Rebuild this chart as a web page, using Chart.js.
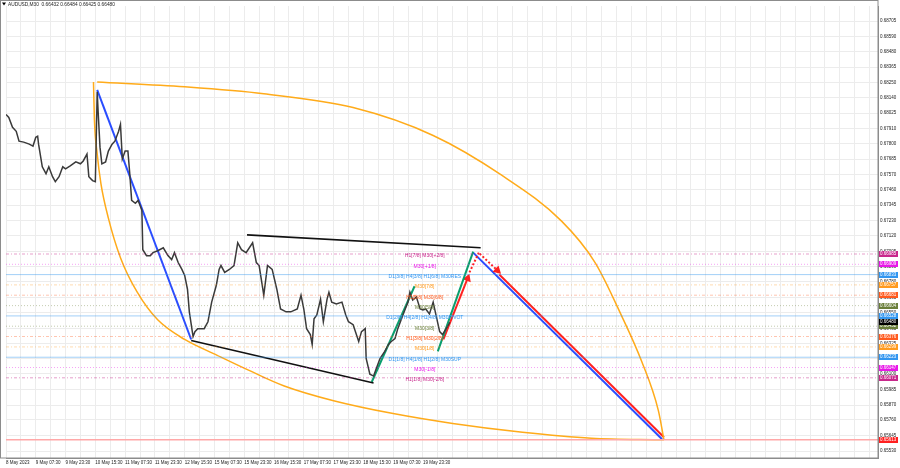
<!DOCTYPE html>
<html lang="en">
<head>
<meta charset="UTF-8">
<title>AUDUSD M30</title>
<script src="https://cdn.jsdelivr.net/npm/chart.js"></script>
<style>
  body { margin: 0; background: #fff; }
  canvas { display: block; }
</style>
</head>
<body>
<canvas id="chart" width="900" height="468"></canvas>
<script>
// values: x = bar number (M30) from the first bar, y = price
const timeLabels = ['8 May 2023', '9 May 07:30', '9 May 23:30', '10 May 15:30', '11 May 07:30',
    '11 May 23:30', '12 May 15:30', '15 May 07:30', '15 May 23:30', '16 May 15:30',
    '17 May 07:30', '17 May 23:30', '18 May 15:30', '19 May 07:30', '19 May 23:30'];

const priceTicks = [0.68705, 0.68590, 0.68480, 0.68365, 0.68250, 0.68140, 0.68025, 0.67910,
    0.67800, 0.67685, 0.67570, 0.67460, 0.67345, 0.67230, 0.67120, 0.67005, 0.66890, 0.66780,
    0.66665, 0.66550, 0.66435, 0.66325, 0.66210, 0.66100, 0.65985, 0.65870, 0.65760, 0.65645, 0.65530];

const priceBars = [0, 3, 7, 11, 14, 19, 25, 29, 32, 34, 35, 39, 43, 46, 50, 53, 57, 61, 64, 69,
    75, 80, 83, 87, 89, 93, 96, 98, 99, 101, 103, 107, 110, 114, 117, 121, 123, 125, 128, 131,
    133, 135, 139, 142, 146, 147, 151, 155, 158, 163, 169, 174, 178, 181, 185, 189, 192, 195, 197, 201,
    203, 206, 210, 213, 217, 221, 226, 229, 231, 235, 240, 245, 249, 253, 258, 265, 269, 272, 277, 281,
    286, 291, 295, 301, 306, 313, 317, 320, 323, 327, 329, 331, 334, 338, 341, 345, 347, 350, 355, 361,
    365, 368, 373, 379, 382, 386, 387, 391, 395, 398, 402, 407, 411, 414, 418, 421, 425, 429, 432, 434,
    437, 441, 445, 448, 451, 455, 459, 462, 466, 469, 473, 477];
const priceClose = [0.68015, 0.67993, 0.67920, 0.67891, 0.67818, 0.67811, 0.67796, 0.67782, 0.67847, 0.67855,
    0.67796, 0.67629, 0.67578, 0.67629, 0.67556, 0.67519, 0.67556, 0.67629, 0.67614, 0.67636,
    0.67665, 0.67651, 0.67672, 0.67723, 0.67556, 0.67527, 0.67519, 0.68183, 0.68037, 0.67774,
    0.67651, 0.67665, 0.67745, 0.67796, 0.67818, 0.67891, 0.67942, 0.67687, 0.67745, 0.67745,
    0.67578, 0.67381, 0.67359, 0.67381, 0.67308, 0.67017, 0.66973, 0.66973, 0.66995, 0.67009,
    0.67031, 0.66973, 0.66944, 0.66995, 0.66922, 0.66871, 0.66827, 0.66725, 0.66558, 0.66375,
    0.66412, 0.66434, 0.66434, 0.66434, 0.66485, 0.66630, 0.66754, 0.66871, 0.66900, 0.66849,
    0.66871, 0.66900, 0.67068, 0.67017, 0.66995, 0.67068, 0.66922, 0.66900, 0.66681, 0.66900,
    0.66871, 0.66725, 0.66579, 0.66558, 0.66558, 0.66579, 0.66681, 0.66579, 0.66434, 0.66390,
    0.66317, 0.66507, 0.66536, 0.66652, 0.66485, 0.66652, 0.66703, 0.66630, 0.66616, 0.66630,
    0.66536, 0.66485, 0.66463, 0.66339, 0.66412, 0.66434, 0.66215, 0.66098, 0.66084, 0.66142,
    0.66215, 0.66266, 0.66317, 0.66339, 0.66361, 0.66434, 0.66507, 0.66579, 0.66630, 0.66703,
    0.66645, 0.66667, 0.66579, 0.66572, 0.66579, 0.66543, 0.66630, 0.66536, 0.66412, 0.66390,
    0.66434, 0.66480];

const headerText = 'AUDUSD,M30  0.66432 0.66484 0.66425 0.66480';
const lastPrice = 0.66480;
const targetPrice = 0.65613;

const levelNames = ['H1[7/8] M30[+2/8]', 'M30[+1/8]', 'D1[3/8] H4[3/8] H1[6/8] M30RES', 'M30[7/8]',
    'H1[5/8] M30[6/8]', 'M30[5/8]', 'D1[2/8] H4[2/8] H1[4/8] M30PIVOT', 'M30[3/8]',
    'H1[3/8] M30[2/8]', 'M30[1/8]', 'D1[1/8] H4[1/8] H1[2/8] M30SUP', 'M30[-1/8]', 'H1[1/8] M30[-2/8]'];
const levelPrices = [0.66985, 0.66909, 0.66833, 0.66757, 0.66681, 0.66604, 0.66528, 0.66452,
    0.66376, 0.66299, 0.66223, 0.66147, 0.66071];

// orange arcs
const arcTopBars = [98, 192, 277, 373, 459, 533, 597, 633, 661, 683, 701, 707];
const arcTopPrices = [0.68255, 0.68219, 0.68168, 0.68066, 0.67860, 0.67565, 0.67228, 0.66922,
    0.66536, 0.66193, 0.65829, 0.65613];
const arcLowBars = [94, 95, 98, 102, 110, 123, 141, 163, 192, 227, 263, 299, 352, 416, 480, 555, 629, 707];
const arcLowPrices = [0.68255, 0.67979, 0.67723, 0.67505, 0.67250, 0.66958, 0.66703, 0.66499, 0.66354,
    0.66237, 0.66120, 0.66011, 0.65902, 0.65807, 0.65734, 0.65669, 0.65625, 0.65613];

// trend lines
const blueDownBars = [98, 199], blueDownPrices = [0.68197, 0.66354];
const wedgeTopBars = [259, 510], wedgeTopPrices = [0.67126, 0.67031];
const wedgeLowBars = [199, 395], wedgeLowPrices = [0.66346, 0.66033];
const greenABars = [393, 439], greenAPrices = [0.66040, 0.66747];
const greenBBars = [464, 502], greenBPrices = [0.66266, 0.67002];
const redUpBars = [470, 496], redUpPrices = [0.66354, 0.66805];
const redUpDotBars = [498, 508], redUpDotPrices = [0.66849, 0.66995];
const redDnDotBars = [509, 528], redDnDotPrices = [0.66988, 0.66864];
const redDnBars = [530, 707], redDnPrices = [0.66834, 0.65632];
const blueTargetBars = [502, 705], blueTargetPrices = [0.66995, 0.65618];

const LAST_BAR = 937;
const LABEL_BAR = 450;
const FONT = "'Liberation Sans', Arial, sans-serif";

const C_M2 = '#c8288c', C_M1 = '#e817e8', C_D1 = '#3296f0', C_O7 = '#ff9a1f', C_O6 = '#ff5a1e', C_OL = '#6b7f3a';
const levelStyle = [
    { c: C_M2, line: 'rgba(200,40,140,0.45)', dash: [3, 2, 1, 2] },
    { c: C_M1, line: 'rgba(232,23,232,0.40)', dash: [1, 2] },
    { c: C_D1, line: 'rgba(50,150,240,0.45)', dash: [] },
    { c: C_O7, line: 'rgba(255,154,31,0.35)', dash: [3, 2, 1, 2] },
    { c: C_O6, line: 'rgba(255,90,30,0.35)', dash: [3, 2, 1, 2] },
    { c: C_OL, line: 'rgba(107,127,58,0.40)', dash: [1, 2] },
    { c: C_D1, line: 'rgba(50,150,240,0.45)', dash: [] },
    { c: C_OL, line: 'rgba(107,127,58,0.40)', dash: [1, 2] },
    { c: C_O6, line: 'rgba(255,90,30,0.35)', dash: [3, 2, 1, 2] },
    { c: C_O7, line: 'rgba(255,154,31,0.35)', dash: [3, 2, 1, 2] },
    { c: C_D1, line: 'rgba(50,150,240,0.45)', dash: [] },
    { c: C_M1, line: 'rgba(232,23,232,0.40)', dash: [1, 2] },
    { c: C_M2, line: 'rgba(200,40,140,0.45)', dash: [3, 2, 1, 2] }
];

function xy(bars, prices) {
    return bars.map((b, i) => ({ x: b, y: prices[i] }));
}
function seg(bars, prices, color, width, dash, extra) {
    return Object.assign({
        data: xy(bars, prices), borderColor: color, borderWidth: width,
        borderDash: dash || [], pointRadius: 0, fill: false
    }, extra || {});
}

const datasets = [];
levelPrices.forEach((p, i) => {
    datasets.push(seg([0, LAST_BAR], [p, p], levelStyle[i].line, 1, levelStyle[i].dash));
});
datasets.push(seg([0, LAST_BAR], [targetPrice, targetPrice], '#ffa8a8', 1.5));
datasets.push(seg(priceBars, priceClose, '#3a3a3a', 1.5));
datasets.push(seg(arcTopBars, arcTopPrices, '#ffab1a', 1.5, [], { cubicInterpolationMode: 'monotone' }));
datasets.push(seg(arcLowBars, arcLowPrices, '#ffab1a', 1.5, [], { cubicInterpolationMode: 'monotone' }));
datasets.push(seg(blueDownBars, blueDownPrices, '#2a4dff', 2));
datasets.push(seg(wedgeTopBars, wedgeTopPrices, '#111111', 1.6));
datasets.push(seg(wedgeLowBars, wedgeLowPrices, '#111111', 1.6));
datasets.push(seg(greenABars, greenAPrices, '#0a9e6e', 2));
datasets.push(seg(greenBBars, greenBPrices, '#0a9e6e', 2));
datasets.push(seg(redUpBars, redUpPrices, '#ff2020', 2, [], {
    pointRadius: [0, 3], pointStyle: 'triangle', pointRotation: 21,
    pointBackgroundColor: '#ff2020', pointBorderColor: '#ff2020'
}));
datasets.push(seg(redUpDotBars, redUpDotPrices, '#ff2020', 2, [2, 2]));
datasets.push(seg(redDnDotBars, redDnDotPrices, '#ff2020', 2, [2, 2], {
    pointRadius: [0, 3], pointStyle: 'triangle', pointRotation: 133,
    pointBackgroundColor: '#ff2020', pointBorderColor: '#ff2020'
}));
datasets.push(seg(blueTargetBars, blueTargetPrices, '#2a4dff', 2));
datasets.push(seg(redDnBars, redDnPrices, '#ff2020', 2));

const overlay = {
    id: 'overlay',
    afterDatasetsDraw(chart) {
        const { ctx, scales: { x, y } } = chart;
        ctx.save();
        ctx.font = '5px ' + FONT;
        ctx.textAlign = 'center';
        ctx.textBaseline = 'middle';
        levelNames.forEach((name, i) => {
            ctx.fillStyle = levelStyle[i].c;
            ctx.fillText(name, x.getPixelForValue(LABEL_BAR), y.getPixelForValue(levelPrices[i]) + 2);
        });
        ctx.restore();
    },
    afterDraw(chart) {
        const { ctx, chartArea, scales: { y } } = chart;
        ctx.save();
        // frame
        ctx.strokeStyle = '#8c8c8c';
        ctx.lineWidth = 1;
        ctx.strokeRect(0.5, 0.5, chartArea.right - 0.5, chartArea.bottom - 0.5);
        // price labels on the axis
        ctx.font = '4.5px ' + FONT;
        ctx.textAlign = 'left';
        ctx.textBaseline = 'middle';
        const tag = (price, bg) => {
            const py = Math.round(y.getPixelForValue(price));
            ctx.fillStyle = bg;
            ctx.fillRect(chartArea.right + 1, py - 3, 19, 6);
            ctx.fillStyle = '#ffffff';
            ctx.fillText(price.toFixed(5), chartArea.right + 2, py);
        };
        levelPrices.forEach((p, i) => tag(p, levelStyle[i].c));
        tag(lastPrice, '#000000');
        tag(targetPrice, '#ff2020');
        // header
        ctx.fillStyle = '#000';
        ctx.beginPath();
        ctx.moveTo(2, 2.5); ctx.lineTo(6, 2.5); ctx.lineTo(4, 5.5); ctx.closePath();
        ctx.fill();
        ctx.font = '4.8px ' + FONT;
        ctx.fillStyle = '#222';
        ctx.fillText(headerText, 8, 4.5);
        ctx.restore();
    }
};

const axisFont = { family: FONT, size: 4.5 };

new Chart(document.getElementById('chart').getContext('2d'), {
    type: 'line',
    data: { datasets: datasets },
    options: {
        responsive: false,
        animation: false,
        events: [],
        layout: { padding: 0 },
        plugins: { legend: { display: false }, tooltip: { enabled: false } },
        scales: {
            x: {
                type: 'linear', min: 0, max: LAST_BAR,
                afterBuildTicks: s => {
                    s.ticks = [];
                    for (let b = 0; b < LAST_BAR; b += 16) s.ticks.push({ value: b });
                },
                afterFit: s => { s.height = 10; },
                grid: { color: '#ececec', drawTicks: false },
                border: { color: '#8c8c8c' },
                ticks: {
                    autoSkip: false, maxRotation: 0, align: 'start', padding: 2,
                    font: axisFont, color: '#222',
                    callback: v => (v % 32 === 0 && v / 32 < timeLabels.length) ? timeLabels[v / 32] : ''
                }
            },
            y: {
                position: 'right', min: 0.65479, max: 0.68816,
                afterBuildTicks: s => { s.ticks = priceTicks.map(v => ({ value: v })); },
                afterFit: s => { s.width = 22; },
                grid: { color: '#ececec', drawTicks: false },
                border: { color: '#8c8c8c' },
                ticks: { padding: 2, font: axisFont, color: '#222', callback: v => v.toFixed(5) }
            }
        }
    },
    plugins: [overlay]
});
</script>
</body>
</html>
